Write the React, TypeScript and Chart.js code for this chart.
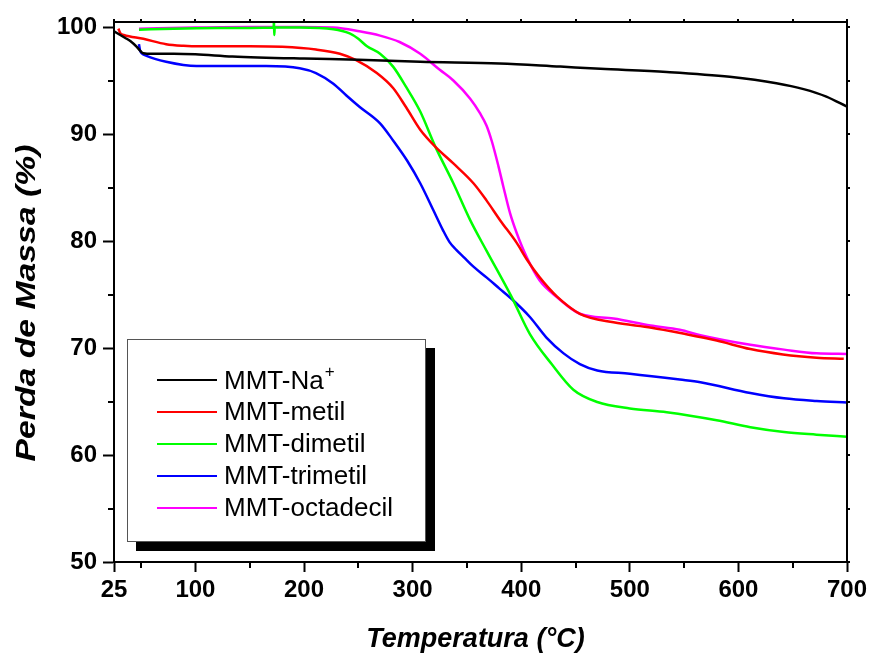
import React, { useEffect, useRef } from 'react';
import { Chart, registerables } from 'chart.js';
Chart.register(...registerables);

const FONT = "'Liberation Sans', Arial, sans-serif";

const seriesLabels = ['MMT-Na', 'MMT-metil', 'MMT-dimetil', 'MMT-trimetil', 'MMT-octadecil'];
const seriesColors = ['#000000', '#ff0000', '#00ff00', '#0000ff', '#ff00ff'];

const naTemp = [25, 30, 35, 40, 46, 49, 52, 60, 80, 100, 134, 200, 250, 307, 380, 436, 473, 534, 592, 635, 660, 681, 700];
const naMass = [99.6, 99.3, 99.0, 98.7, 98.15, 97.8, 97.55, 97.5, 97.5, 97.45, 97.25, 97.05, 96.95, 96.75, 96.6, 96.3, 96.1, 95.8, 95.35, 94.75, 94.2, 93.5, 92.55];

const metilTemp = [29, 31, 34, 52, 73, 89, 104, 150, 180, 211, 233, 248, 267, 282, 294, 307, 321, 337.5, 356, 368, 380.5, 396, 405, 417, 433, 454, 485, 520, 549, 580, 611, 641, 672, 697];
const metilMass = [99.85, 99.4, 99.25, 98.9, 98.4, 98.25, 98.2, 98.2, 98.15, 97.9, 97.5, 96.9, 95.7, 94.3, 92.5, 90.4, 88.8, 87.25, 85.4, 83.8, 81.95, 79.8, 78.3, 76.6, 74.8, 73.2, 72.4, 71.9, 71.35, 70.7, 69.9, 69.4, 69.1, 69.0];

const dimetilTemp = [48, 80, 120, 172, 172.3, 172.6, 173, 196, 227, 242, 250, 258, 270, 282, 294, 307, 321, 337.5, 353, 368, 391, 408, 428, 448, 470, 500, 534, 580, 611, 642, 672, 700];
const dimetilMass = [99.75, 99.85, 99.9, 99.95, 100.5, 99.25, 99.95, 99.95, 99.8, 99.4, 98.9, 98.2, 97.5, 96.3, 94.4, 92.1, 88.8, 85.4, 81.95, 79.1, 74.8, 71.3, 68.5, 66.1, 64.95, 64.35, 64.0, 63.25, 62.6, 62.15, 61.9, 61.7];

const trimetilTemp = [48, 49, 50, 55, 73, 101, 165, 196, 211, 227, 239, 251, 270, 282, 295, 307, 319, 328, 334, 340, 347, 356, 368, 380, 391, 408, 423, 439, 454, 470, 500, 546, 565, 611, 642, 672, 700];
const trimetilMass = [98.4, 97.8, 97.6, 97.3, 96.75, 96.35, 96.35, 96.15, 95.7, 94.7, 93.6, 92.55, 91.0, 89.4, 87.5, 85.4, 82.9, 81.0, 79.9, 79.2, 78.5, 77.6, 76.6, 75.55, 74.6, 72.9, 71.0, 69.5, 68.5, 67.9, 67.6, 67.05, 66.8, 65.8, 65.3, 65.05, 64.9];

const octadecilTemp = [48, 100, 150, 196, 227, 251, 270, 288, 307, 325, 337.5, 353, 362, 368, 373, 379, 383.5, 389.7, 396, 405, 417, 433, 454, 485, 519, 546, 565, 611, 642, 672, 700];
const octadecilMass = [99.85, 99.95, 100.0, 100.0, 99.95, 99.6, 99.2, 98.6, 97.5, 96.0, 95.0, 93.3, 91.95, 90.8, 89.3, 87.0, 85.1, 82.6, 80.7, 78.5, 76.3, 74.75, 73.2, 72.75, 72.1, 71.7, 71.2, 70.3, 69.85, 69.5, 69.45];

const seriesTemps = [naTemp, metilTemp, dimetilTemp, trimetilTemp, octadecilTemp];
const seriesMasses = [naMass, metilMass, dimetilMass, trimetilMass, octadecilMass];

const xMajorTicks = [25, 100, 200, 300, 400, 500, 600, 700];
const xMinorTicks = [50, 150, 250, 350, 450, 550, 650];
const yMajorTicks = [50, 60, 70, 80, 90, 100];
const yMinorTicks = [55, 65, 75, 85, 95];

const xTitle = 'Temperatura (°C)';
const yTitle = 'Perda de Massa (%)';

const decorPlugin = {
  id: 'decor',
  afterDatasetsDraw(chart: any) {
    const { ctx, chartArea: a, scales } = chart;
    const xs = scales.x;
    const ys = scales.y;
    ctx.save();
    ctx.strokeStyle = '#000';
    ctx.lineWidth = 2;
    ctx.beginPath();
    ctx.moveTo(a.left - 1, a.top);
    ctx.lineTo(a.right, a.top);
    ctx.lineTo(a.right, a.bottom + 1);
    ctx.stroke();
    ctx.beginPath();
    for (const v of xMinorTicks) {
      const x = Math.round(xs.getPixelForValue(v));
      ctx.moveTo(x, a.bottom);
      ctx.lineTo(x, a.bottom + 6);
    }
    for (const v of yMinorTicks) {
      const y = Math.round(ys.getPixelForValue(v));
      ctx.moveTo(a.left, y);
      ctx.lineTo(a.left - 6, y);
    }
    for (const v of [...xMajorTicks, ...xMinorTicks]) {
      const x = Math.round(xs.getPixelForValue(v));
      ctx.moveTo(x, a.top);
      ctx.lineTo(x, a.top - 3);
    }
    for (const v of [...yMajorTicks, ...yMinorTicks]) {
      const y = Math.round(ys.getPixelForValue(v));
      ctx.moveTo(a.right, y);
      ctx.lineTo(a.right + 3, y);
    }
    ctx.stroke();
    ctx.restore();
  },
  afterDraw(chart: any) {
    const { ctx, chartArea: a } = chart;
    ctx.save();
    // axis titles
    ctx.fillStyle = '#000';
    ctx.font = `italic bold 27px ${FONT}`;
    ctx.textAlign = 'center';
    ctx.textBaseline = 'alphabetic';
    ctx.fillText(xTitle, (a.left + a.right) / 2 - 5, 647);
    ctx.save();
    ctx.translate(35, 303);
    ctx.rotate(-Math.PI / 2);
    ctx.scale(1.25, 1);
    ctx.font = `italic bold 27px ${FONT}`;
    ctx.fillText(yTitle, 0, 0);
    ctx.restore();

    // legend box with shadow
    const bx = 127, by = 339, bw = 299, bh = 203, off = 9;
    ctx.fillStyle = '#000';
    ctx.fillRect(bx + off, by + off, bw, bh);
    ctx.fillStyle = '#fff';
    ctx.fillRect(bx, by, bw, bh);
    ctx.strokeStyle = '#555';
    ctx.lineWidth = 1;
    ctx.strokeRect(bx + 0.5, by + 0.5, bw - 1, bh - 1);

    const ds = chart.data.datasets;
    ctx.textAlign = 'left';
    ctx.textBaseline = 'alphabetic';
    for (let i = 0; i < ds.length; i++) {
      const y = 380 + i * 31.9;
      ctx.strokeStyle = ds[i].borderColor;
      ctx.lineWidth = 2;
      ctx.beginPath();
      ctx.moveTo(157, Math.round(y));
      ctx.lineTo(217, Math.round(y));
      ctx.stroke();
      ctx.fillStyle = '#000';
      ctx.font = `26px ${FONT}`;
      ctx.fillText(ds[i].label, 224, y + 8.5);
      if (i === 0) {
        const w = ctx.measureText(ds[i].label).width;
        ctx.font = `17px ${FONT}`;
        ctx.fillText('+', 224 + w + 1, y - 3);
      }
    }
    ctx.restore();
  },
};

export default function App() {
  const ref = useRef<HTMLCanvasElement | null>(null);
  useEffect(() => {
    if (!ref.current) return;
    const datasets = seriesLabels.map((label, i) => ({
      label,
      data: seriesTemps[i].map((t, j) => ({ x: t, y: seriesMasses[i][j] })),
      borderColor: seriesColors[i],
      backgroundColor: seriesColors[i],
      borderWidth: 2.5,
      pointRadius: 0,
      fill: false,
      cubicInterpolationMode: 'monotone' as const,
    }));
    const tickFont = { family: FONT, size: 24, weight: 'bold' as const };
    const chart = new Chart(ref.current, {
      type: 'line',
      data: { datasets },
      options: {
        animation: false,
        responsive: false,
        devicePixelRatio: 1,
        layout: { padding: { top: 22, right: 26, left: 0, bottom: 0 } },
        plugins: { legend: { display: false }, tooltip: { enabled: false } },
        scales: {
          x: {
            type: 'linear',
            min: 25,
            max: 700,
            bounds: 'data',
            afterBuildTicks: (s: any) => {
              s.ticks = xMajorTicks.map((v) => ({ value: v }));
            },
            afterFit: (s: any) => {
              s.height = 95;
            },
            grid: { display: true, drawOnChartArea: false, drawTicks: true, tickLength: 10, tickWidth: 2, tickColor: '#000' },
            border: { display: true, color: '#000', width: 2 },
            ticks: { font: tickFont, color: '#000', padding: 4, maxRotation: 0, autoSkip: false },
          },
          y: {
            type: 'linear',
            min: 50,
            max: 100.47,
            bounds: 'data',
            afterBuildTicks: (s: any) => {
              s.ticks = yMajorTicks.map((v) => ({ value: v }));
            },
            afterFit: (s: any) => {
              s.width = 114;
            },
            grid: { display: true, drawOnChartArea: false, drawTicks: true, tickLength: 11, tickWidth: 2, tickColor: '#000' },
            border: { display: true, color: '#000', width: 2 },
            ticks: { font: tickFont, color: '#000', padding: 6, autoSkip: false },
          },
        },
      },
      plugins: [decorPlugin],
    });
    return () => chart.destroy();
  }, []);
  return (
    <div style={{ position: 'absolute', left: 0, top: 0, width: 873, height: 657, background: '#fff' }}>
      <canvas ref={ref} width={873} height={657} style={{ display: 'block' }} />
    </div>
  );
}
